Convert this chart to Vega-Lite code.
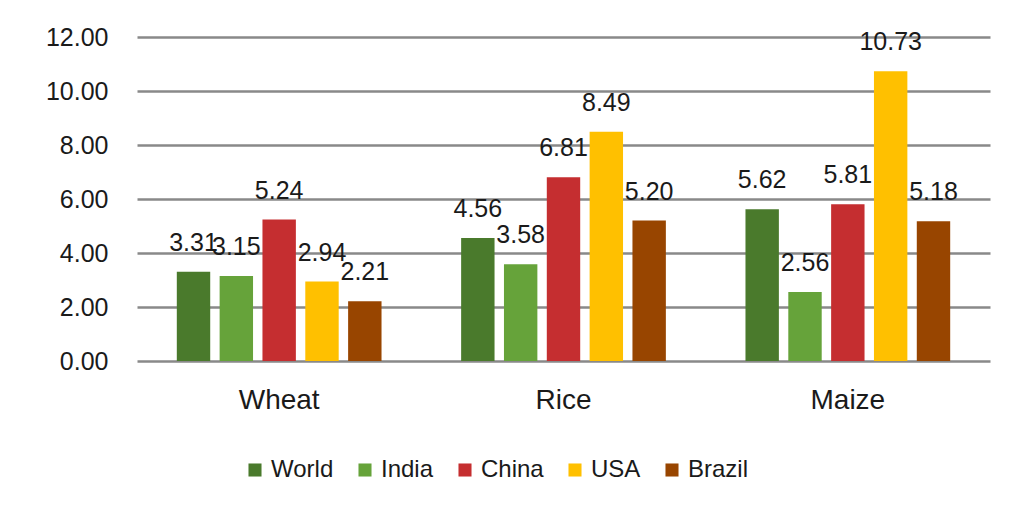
{
  "$schema": "https://vega.github.io/schema/vega-lite/v6.json",
  "width": 853,
  "height": 324,
  "autosize": {"type": "none"},
  "padding": {"left": 137, "top": 37, "right": 19, "bottom": 149},
  "background": "white",
  "config": {"view": {"stroke": null}, "font": "Liberation Sans"},
  "data": {
    "values": [
      {"crop": "Wheat", "country": "World", "value": 3.31},
      {"crop": "Wheat", "country": "India", "value": 3.15},
      {"crop": "Wheat", "country": "China", "value": 5.24},
      {"crop": "Wheat", "country": "USA", "value": 2.94},
      {"crop": "Wheat", "country": "Brazil", "value": 2.21},
      {"crop": "Rice", "country": "World", "value": 4.56},
      {"crop": "Rice", "country": "India", "value": 3.58},
      {"crop": "Rice", "country": "China", "value": 6.81},
      {"crop": "Rice", "country": "USA", "value": 8.49},
      {"crop": "Rice", "country": "Brazil", "value": 5.20},
      {"crop": "Maize", "country": "World", "value": 5.62},
      {"crop": "Maize", "country": "India", "value": 2.56},
      {"crop": "Maize", "country": "China", "value": 5.81},
      {"crop": "Maize", "country": "USA", "value": 10.73},
      {"crop": "Maize", "country": "Brazil", "value": 5.18}
    ]
  },
  "encoding": {
    "x": {
      "field": "crop", "type": "nominal", "sort": ["Wheat", "Rice", "Maize"],
      "scale": {"paddingInner": 0.28, "paddingOuter": 0.14},
      "axis": {"title": null, "labelAngle": 0, "domain": false, "ticks": false, "labelFontSize": 28, "labelColor": "#1a1a1a", "labelPadding": 25}
    },
    "xOffset": {
      "field": "country", "type": "nominal", "sort": ["World", "India", "China", "USA", "Brazil"],
      "scale": {"paddingInner": 0.22, "paddingOuter": 0}
    },
    "y": {
      "field": "value", "type": "quantitative",
      "scale": {"domain": [0, 12], "nice": false},
      "axis": {"title": null, "values": [0, 2, 4, 6, 8, 10, 12], "format": ".2f", "domain": false, "ticks": false, "gridColor": "#898989", "gridWidth": 2.5, "gridOpacity": 1, "labelFontSize": 25, "labelPadding": 29, "labelColor": "#1a1a1a"}
    }
  },
  "layer": [
    {
      "mark": {"type": "bar"},
      "encoding": {
        "color": {
          "field": "country", "type": "nominal", "sort": ["World", "India", "China", "USA", "Brazil"],
          "scale": {"domain": ["World", "India", "China", "USA", "Brazil"], "range": ["#4a7a2c", "#66a33a", "#c52e30", "#ffc000", "#984500"]},
          "legend": {"title": null, "orient": "none", "legendX": 106, "legendY": 421, "direction": "horizontal", "columns": 5, "symbolType": "square", "symbolSize": 170, "symbolStrokeWidth": 0, "labelFontSize": 24, "labelOffset": 4, "columnPadding": 19, "labelColor": "#1a1a1a"}
        }
      }
    },
    {
      "mark": {"type": "text", "baseline": "alphabetic", "dy": -21, "fontSize": 25, "color": "#1a1a1a"},
      "encoding": {"text": {"field": "value", "type": "quantitative", "format": ".2f"}}
    }
  ]
}
